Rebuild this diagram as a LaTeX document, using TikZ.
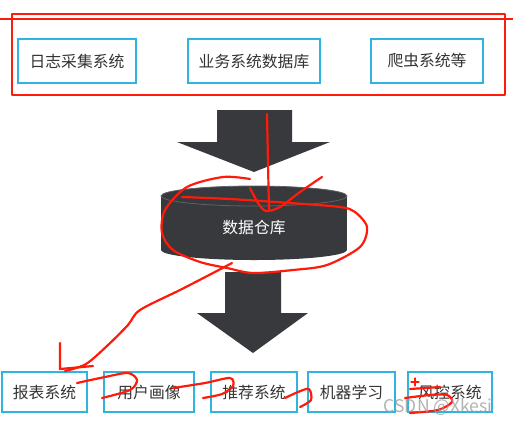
\documentclass[tikz,border=0pt]{standalone}
\usepackage{fontspec}
\setmainfont{Noto Sans CJK SC}
\usetikzlibrary{positioning}
\definecolor{boxcyan}{HTML}{2DB5E0}
\definecolor{darkshape}{HTML}{37393D}
\definecolor{rimgray}{HTML}{5E6165}
\definecolor{textgray}{HTML}{333333}
\definecolor{penred}{HTML}{FF1A0A}

\begin{document}
\begin{tikzpicture}[x=1pt,y=-1pt,
  sysbox/.style={draw=boxcyan, line width=1.2pt, text=textgray,
    font=\fontsize{15.8}{18}\selectfont, inner sep=0pt, minimum height=44pt},
  appbox/.style={sysbox, minimum height=40pt},
  scribble/.style={draw=penred, line width=2.2pt, line cap=round, line join=round}]
\useasboundingbox (0,0) rectangle (513,424);

% data sources
\node[sysbox, minimum width=118pt] (logsys) at (77,61) {日志采集系统};
\node[sysbox, minimum width=132pt] (bizdb)  at (254,61) {业务系统数据库};
\node[sysbox, minimum width=112pt] (crawler) at (427,61) {爬虫系统等};

% big arrows
\fill[darkshape] (217,110) -- (292,110) -- (292,142) -- (330,142) -- (254,172)
  -- (177,142) -- (217,142) -- cycle;
\fill[darkshape] (225,272) -- (281,272) -- (281,313) -- (308,313) -- (253,353)
  -- (197,313) -- (225,313) -- cycle;

% warehouse cylinder
\fill[darkshape] (161,196) rectangle (347,250);
\fill[darkshape] (254,250) ellipse[x radius=93, y radius=10];
\filldraw[fill=darkshape, draw=rimgray, line width=0.8pt] (254,196) ellipse[x radius=93, y radius=10];
\node[text=white, font=\fontsize{15.8}{18}\selectfont] (dwh) at (254,228) {数据仓库};

% applications
\node[appbox, minimum width=85pt] (report)  at (44.5,392) {报表系统};
\node[appbox, minimum width=90pt] (profile) at (149,392) {用户画像};
\node[appbox, minimum width=86pt] (recsys)  at (254,392) {推荐系统};
\node[appbox, minimum width=87pt] (mlearn)  at (351.5,392) {机器学习};
\node[appbox, minimum width=84pt] (riskctl) at (450,392) {风控系统};

% red pen marks
\draw[scribble, line width=2.4pt] (12,14) rectangle (505,95);
\draw[scribble, line width=2.4pt] (0,19) -- (513,19);
\draw[scribble] (267,114) -- (269,211);
\draw[scribble] plot[smooth] coordinates {(250,188) (258,203) (266,211) (280,207) (300,192) (322,177)};
\draw[scribble] plot[smooth] coordinates {(250,179) (223,177) (187,187) (165,210) (162,233)
  (173,250) (200,262) (227,268) (253,273) (293,270) (327,265) (360,247) (367,227)
  (355,212) (340,207) (290,203) (230,199) (182,197)};
\draw[scribble] plot[smooth] coordinates {(232,263) (213,273) (180,290) (140,310)
  (128,325) (108,345) (86,364) (65,371)};
\draw[scribble] (60,343) -- (60,369) -- (93,366);
\draw[scribble] plot[smooth] coordinates {(77,383) (105,377) (128,373) (137,380) (130,390) (102,398)};
\draw[scribble] plot[smooth] coordinates {(173,388) (205,383) (230,378) (233,386) (222,394) (203,398)};
\draw[scribble] plot[smooth] coordinates {(285,398) (298,392) (309,389) (311,400) (300,407)};
\draw[scribble, line width=1.2pt] (415,378) -- (415,386) (411,382) -- (419,382);
\draw[scribble] (410,389) -- (440,387);
\draw[scribble] plot[smooth] coordinates {(405,398) (430,395) (447,395) (452,402) (438,410) (410,413)};

% watermark
\node[text=gray!75, opacity=0.8, font=\fontsize{17.5}{20}\selectfont] (mark) at (438,407) {CSDN @Xkesi};
\end{tikzpicture}
\end{document}
